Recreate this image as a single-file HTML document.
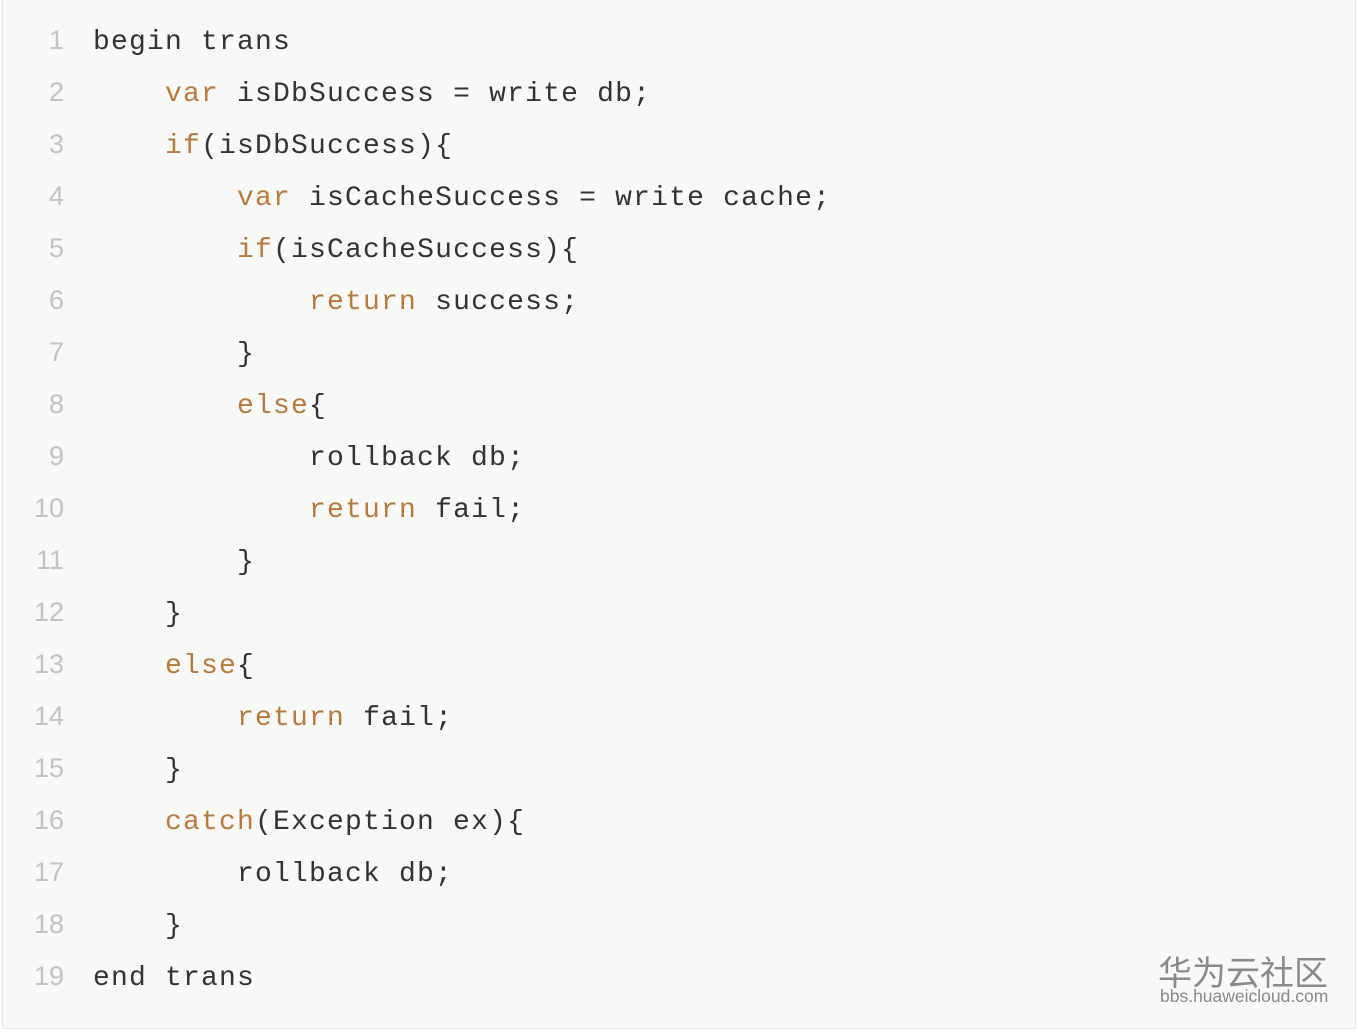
<!DOCTYPE html>
<html><head><meta charset="utf-8"><style>
html,body{margin:0;padding:0;width:1358px;height:1032px;background:#fff;overflow:hidden}
.box{position:absolute;left:2px;top:0;width:1352px;height:1028px;background:#f8f8f8;border:1px solid #e8e8e8;border-top:none}
.l{position:absolute;left:0;height:40px;line-height:40px;font-family:"Liberation Mono",monospace;font-size:28px;letter-spacing:1.2px;color:#333;white-space:pre}
.n{position:absolute;top:0;width:64px;text-align:right;color:#c2c2c2;font-family:"Liberation Sans",sans-serif;font-size:27px;letter-spacing:0}
.c{position:absolute;left:93px;top:3px}
.k{color:#b97a3c}
.wm1{position:absolute;left:1158px;top:946px;font-family:"Liberation Sans","Noto Sans CJK SC",sans-serif;font-size:34px;color:#8a8a8a}
.wm2{position:absolute;left:1160px;top:986px;font-family:"Liberation Sans",sans-serif;font-size:17.5px;color:#8a8a8a}
</style></head><body>
<div class="box"></div>
<div class="l" style="top:20px"><span class="n">1</span><span class="c">begin trans</span></div>
<div class="l" style="top:72px"><span class="n">2</span><span class="c">    <span class="k">var</span> isDbSuccess = write db;</span></div>
<div class="l" style="top:124px"><span class="n">3</span><span class="c">    <span class="k">if</span>(isDbSuccess){</span></div>
<div class="l" style="top:176px"><span class="n">4</span><span class="c">        <span class="k">var</span> isCacheSuccess = write cache;</span></div>
<div class="l" style="top:228px"><span class="n">5</span><span class="c">        <span class="k">if</span>(isCacheSuccess){</span></div>
<div class="l" style="top:280px"><span class="n">6</span><span class="c">            <span class="k">return</span> success;</span></div>
<div class="l" style="top:332px"><span class="n">7</span><span class="c">        }</span></div>
<div class="l" style="top:384px"><span class="n">8</span><span class="c">        <span class="k">else</span>{</span></div>
<div class="l" style="top:436px"><span class="n">9</span><span class="c">            rollback db;</span></div>
<div class="l" style="top:488px"><span class="n">10</span><span class="c">            <span class="k">return</span> fail;</span></div>
<div class="l" style="top:540px"><span class="n">11</span><span class="c">        }</span></div>
<div class="l" style="top:592px"><span class="n">12</span><span class="c">    }</span></div>
<div class="l" style="top:644px"><span class="n">13</span><span class="c">    <span class="k">else</span>{</span></div>
<div class="l" style="top:696px"><span class="n">14</span><span class="c">        <span class="k">return</span> fail;</span></div>
<div class="l" style="top:748px"><span class="n">15</span><span class="c">    }</span></div>
<div class="l" style="top:800px"><span class="n">16</span><span class="c">    <span class="k">catch</span>(Exception ex){</span></div>
<div class="l" style="top:852px"><span class="n">17</span><span class="c">        rollback db;</span></div>
<div class="l" style="top:904px"><span class="n">18</span><span class="c">    }</span></div>
<div class="l" style="top:956px"><span class="n">19</span><span class="c">end trans</span></div>
<div class="wm1">华为云社区</div>
<div class="wm2">bbs.huaweicloud.com</div>
</body></html>
